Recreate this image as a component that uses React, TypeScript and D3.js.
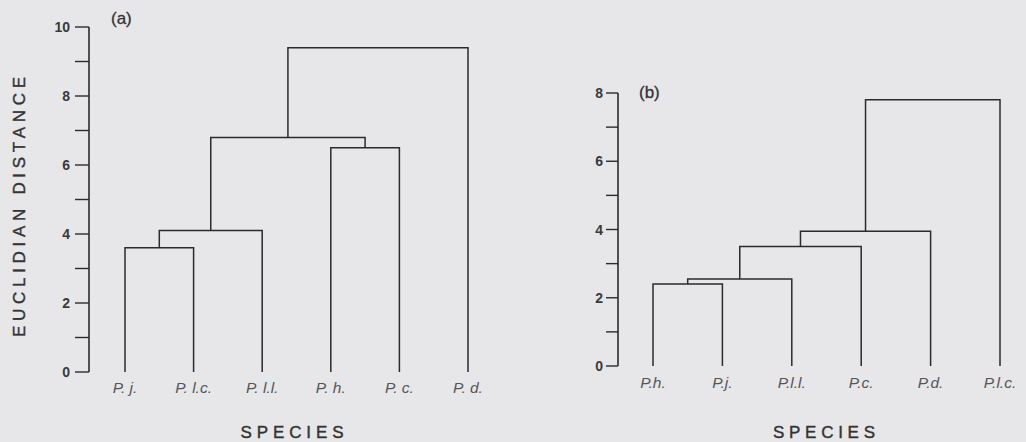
import React from "react";
import * as d3 from "d3";

// ---- Data ----
const leavesA = ["P. j.", "P. l.c.", "P. l.l.", "P. h.", "P. c.", "P. d."];
// merges: [child1, child2, height]; indices < n are leaves, >= n are earlier merges
const mergesA: [number, number, number][] = [
  [0, 1, 3.6],
  [6, 2, 4.1],
  [3, 4, 6.5],
  [7, 8, 6.8],
  [9, 5, 9.4],
];
const ticksA = [0, 2, 4, 6, 8, 10];
const minorTicksA = [1, 3, 5, 7, 9];

const leavesB = ["P.h.", "P.j.", "P.l.l.", "P.c.", "P.d.", "P.l.c."];
const mergesB: [number, number, number][] = [
  [0, 1, 2.4],
  [6, 2, 2.55],
  [7, 3, 3.5],
  [8, 4, 3.95],
  [9, 5, 7.8],
];
const ticksB = [0, 2, 4, 6, 8];
const minorTicksB = [1, 3, 5, 7];

const yLabel = "EUCLIDIAN DISTANCE";
const xLabel = "SPECIES";

const FONT = "'Liberation Sans', Arial, Helvetica, sans-serif";
const INK = "#2b2b2b";

type PanelProps = {
  leaves: string[];
  merges: [number, number, number][];
  ticks: number[];
  minor: number[];
  yMax: number;
  axisX: number;
  yTop: number;
  yBottom: number;
  xFirst: number;
  xLast: number;
  tickLen: number;
  tickGap: number;
  tag: string;
  tagX: number;
  tagY: number;
  labelY: number;
  speciesX: number;
  speciesW: number;
};

function Panel(p: PanelProps) {
  const y = d3.scaleLinear().domain([0, p.yMax]).range([p.yBottom, p.yTop]);
  const x = d3
    .scalePoint<number>()
    .domain(p.leaves.map((_, i) => i))
    .range([p.xFirst, p.xLast]);
  const nodes: { x: number; h: number }[] = p.leaves.map((_, i) => ({ x: x(i)!, h: 0 }));
  const paths: string[] = [];
  p.merges.forEach(([a, b, h]) => {
    const na = nodes[a];
    const nb = nodes[b];
    const path = d3.path();
    path.moveTo(na.x, y(na.h));
    path.lineTo(na.x, y(h));
    path.lineTo(nb.x, y(h));
    path.lineTo(nb.x, y(nb.h));
    paths.push(path.toString());
    nodes.push({ x: (na.x + nb.x) / 2, h });
  });
  return (
    <g>
      <line x1={p.axisX} x2={p.axisX} y1={y(0)} y2={y(p.yMax)} stroke={INK} strokeWidth={1.6} />
      {p.ticks.map((t) => (
        <g key={"t" + t}>
          <line x1={p.axisX - p.tickLen} x2={p.axisX} y1={y(t)} y2={y(t)} stroke={INK} strokeWidth={1.4} />
          <text
            x={p.axisX - p.tickLen - p.tickGap}
            y={y(t)}
            dy="0.36em"
            textAnchor="end"
            fontFamily={FONT}
            fontSize={14}
            fontWeight="bold"
            fill="#3a3a3a"
          >
            {t}
          </text>
        </g>
      ))}
      {p.minor.map((t) => (
        <line key={"m" + t} x1={p.axisX - p.tickLen} x2={p.axisX} y1={y(t)} y2={y(t)} stroke={INK} strokeWidth={1.4} />
      ))}
      {paths.map((d, i) => (
        <path key={i} d={d} fill="none" stroke={INK} strokeWidth={1.5} />
      ))}
      {p.leaves.map((l, i) => (
        <text
          key={l}
          x={x(i)!}
          y={p.labelY}
          textAnchor="middle"
          fontFamily={FONT}
          fontStyle="italic"
          fontSize={15.5}
          fill="#555"
        >
          {l}
        </text>
      ))}
      <text x={p.tagX} y={p.tagY} fontFamily={FONT} fontSize={17} fill="#333" stroke="#333" strokeWidth={0.3}>
        {p.tag}
      </text>
      <text
        x={p.speciesX - p.speciesW / 2}
        y={438}
        fontFamily={FONT}
        fontSize={17}
        fill="#333"
        stroke="#333"
        strokeWidth={0.4}
        textLength={p.speciesW}
        lengthAdjust="spacing"
      >
        {xLabel}
      </text>
    </g>
  );
}

export default function App() {
  return (
    <svg
      width={1026}
      height={442}
      style={{ position: "absolute", left: 0, top: 0, background: "#e7e7ea" }}
    >
      <rect width={1026} height={442} fill="#e7e7ea" />
      <text
        transform="translate(25,337) rotate(-90)"
        fontFamily={FONT}
        fontSize={17}
        fill="#333"
        stroke="#333"
        strokeWidth={0.4}
        textLength={260}
        lengthAdjust="spacing"
      >
        {yLabel}
      </text>
      <Panel
        leaves={leavesA}
        merges={mergesA}
        ticks={ticksA}
        minor={minorTicksA}
        yMax={10}
        axisX={89}
        yTop={27}
        yBottom={372}
        xFirst={125}
        xLast={468}
        tickLen={14}
        tickGap={5}
        tag="(a)"
        tagX={111}
        tagY={24}
        labelY={393}
        speciesX={292}
        speciesW={103}
      />
      <Panel
        leaves={leavesB}
        merges={mergesB}
        ticks={ticksB}
        minor={minorTicksB}
        yMax={8}
        axisX={618}
        yTop={93}
        yBottom={366}
        xFirst={653}
        xLast={1000}
        tickLen={12}
        tickGap={3}
        tag="(b)"
        tagX={639}
        tagY={98}
        labelY={388}
        speciesX={824}
        speciesW={102}
      />
    </svg>
  );
}
